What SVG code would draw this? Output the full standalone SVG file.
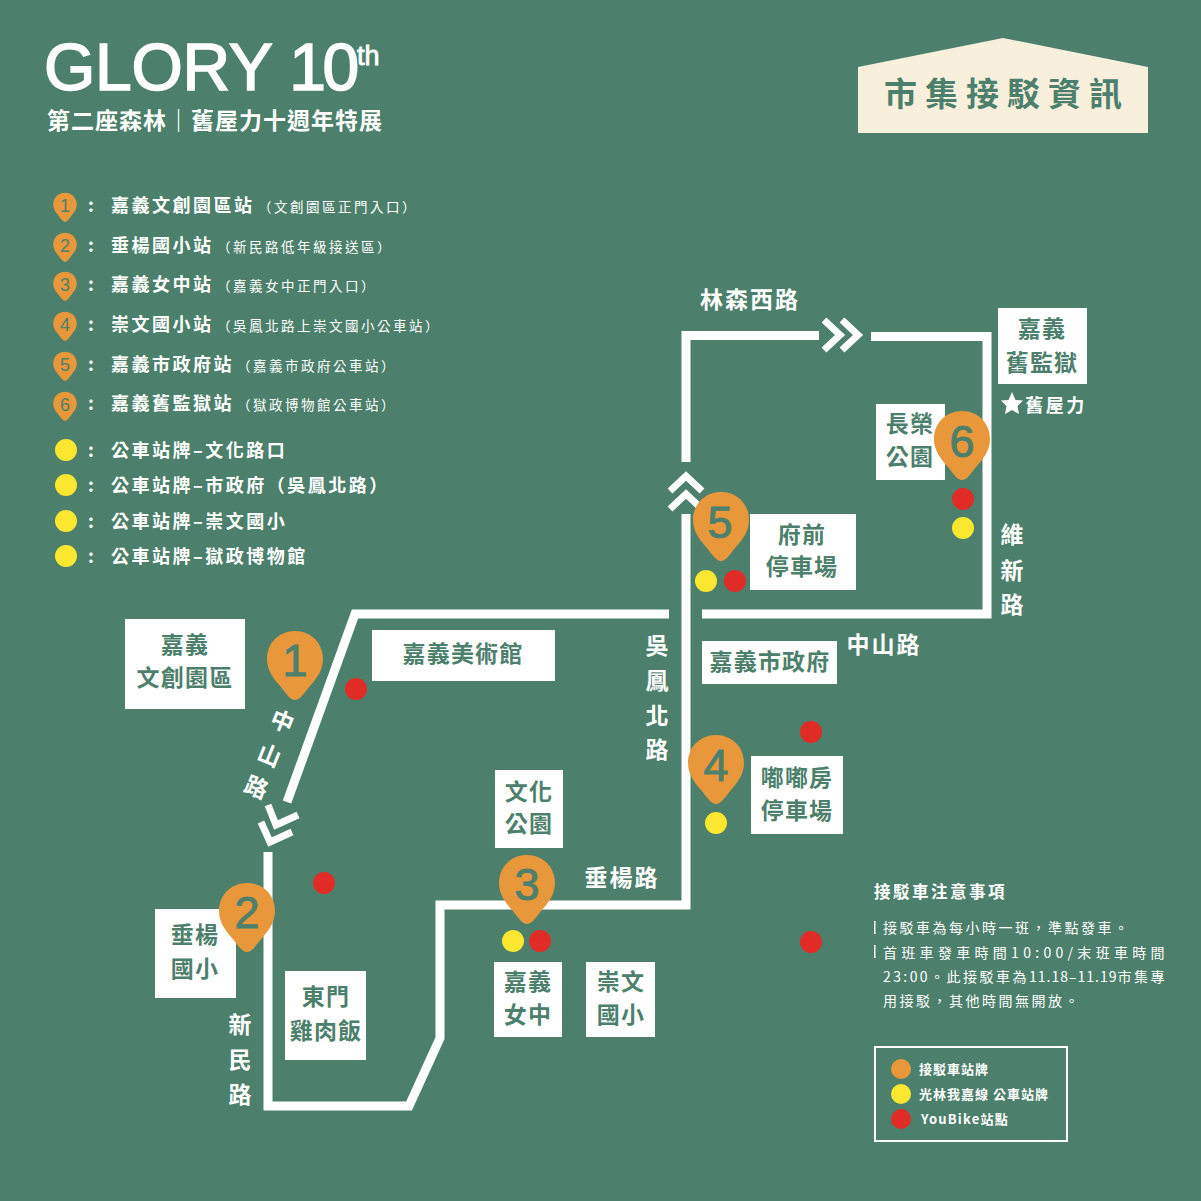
<svg xmlns="http://www.w3.org/2000/svg" width="1201" height="1201" viewBox="0 0 1201 1201">
<style>
text{font-family:"Noto Sans CJK TC","Noto Sans CJK SC",sans-serif}
.road{fill:none;stroke:#fff;stroke-width:9;stroke-linejoin:miter}
.chev{fill:none;stroke:#fff;stroke-width:7;stroke-linejoin:miter}
.box{fill:#fff}
.bl{fill:#4d806c;font-size:23px;font-weight:700;letter-spacing:1.2px;text-anchor:middle;transform:translateY(-1px)}
.wl{fill:#fff;font-size:23px;font-weight:700;letter-spacing:2px;text-anchor:middle}
#road-labels{transform:translateY(-1px)}
.num{fill:#4d806c;stroke:#4d806c;stroke-width:1;font-family:"Liberation Sans",sans-serif;font-size:45px;text-anchor:middle}
.snum{fill:#4d806c;font-family:"Liberation Sans",sans-serif;font-size:18px;text-anchor:middle}
.lg{fill:#fff;font-size:18px;font-weight:700;letter-spacing:2.5px}
.lgs{fill:#fff;font-size:13.5px;letter-spacing:2.5px}
.note{fill:#fff;font-size:14px;letter-spacing:2.5px}
.key{fill:#fff;font-size:13px;font-weight:700;letter-spacing:1px}
.o{fill:#e8983a}.y{fill:#fbe72f}.r{fill:#e02b27}
</style>
<defs>
<path id="pin" class="o" d="M0,40 C-5,40 -9,33 -15,26 C-22,18 -28,10 -28,-1 C-28,-17 -16,-29 0,-29 C16,-29 28,-17 28,-1 C28,10 22,18 15,26 C9,33 5,40 0,40Z"/>
</defs>
<rect width="1201" height="1201" fill="#4d806c"/>

<g id="title">
<text x="44" y="90" fill="#fff" style="font-family:'Liberation Sans',sans-serif" font-size="66" stroke="#fff" stroke-width="1.6" letter-spacing="-.3">GLORY <tspan style="letter-spacing:-3.500px">10</tspan></text>
<text x="357" y="65" fill="#fff" style="font-family:'Liberation Sans',sans-serif" font-size="27" stroke="#fff" stroke-width=".8">th</text>
<text x="47" y="129" fill="#fff" font-size="23" font-weight="700" letter-spacing="1">第二座森林｜舊屋力十週年特展</text>
</g>

<g id="banner">
<path d="M858,67 L1003,38 L1148,67 V133 H858Z" fill="#f8f0dd"/>
<text x="1007" y="106" fill="#4d806c" font-size="33" font-weight="700" letter-spacing="8" text-anchor="middle">市集接駁資訊</text>
</g>

<g id="connectors">
<path class="road" d="M669,614 H355 L287,802"/>
<path class="road" d="M268,852 V1106 H409 L440,1038 V905 H686 V514"/>
<path class="road" d="M686,462 V335.500 H819"/>
<path class="road" d="M871,336.500 H987 V614 H702"/>
<path class="chev" d="M824,320 L840,335 L824,350"/>
<path class="chev" d="M842,320 L858,335 L842,350"/>
<path class="chev" d="M670,491 L686,476 L702,491"/>
<path class="chev" d="M670,509 L686,494 L702,509"/>
<path class="chev" d="M268,805 L276,825 L298,815"/>
<path class="chev" d="M261,822 L270,842 L292,832"/>
</g>

<g id="legend-list">
<g id="leg1"><use href="#pin" transform="translate(65,205) scale(.42)"/><text class="snum" x="65" y="212">1</text><text class="lg" x="88" y="212">:</text><text class="lg" x="111" y="212">嘉義文創園區站</text><text class="lgs" x="258" y="212">（文創園區正門入口）</text></g>
<g id="leg2"><use href="#pin" transform="translate(65,245) scale(.42)"/><text class="snum" x="65" y="252">2</text><text class="lg" x="88" y="252">:</text><text class="lg" x="111" y="252">垂楊國小站</text><text class="lgs" x="217" y="252">（新民路低年級接送區）</text></g>
<g id="leg3"><use href="#pin" transform="translate(65,284) scale(.42)"/><text class="snum" x="65" y="291">3</text><text class="lg" x="88" y="291">:</text><text class="lg" x="111" y="291">嘉義女中站</text><text class="lgs" x="217" y="291">（嘉義女中正門入口）</text></g>
<g id="leg4"><use href="#pin" transform="translate(65,324) scale(.42)"/><text class="snum" x="65" y="331">4</text><text class="lg" x="88" y="331">:</text><text class="lg" x="111" y="331">崇文國小站</text><text class="lgs" x="217" y="331">（吳鳳北路上崇文國小公車站）</text></g>
<g id="leg5"><use href="#pin" transform="translate(65,364) scale(.42)"/><text class="snum" x="65" y="371">5</text><text class="lg" x="88" y="371">:</text><text class="lg" x="111" y="371">嘉義市政府站</text><text class="lgs" x="237" y="371">（嘉義市政府公車站）</text></g>
<g id="leg6"><use href="#pin" transform="translate(65,404) scale(.42)"/><text class="snum" x="65" y="411">6</text><text class="lg" x="88" y="410">:</text><text class="lg" x="111" y="410">嘉義舊監獄站</text><text class="lgs" x="237" y="410">（獄政博物館公車站）</text></g>
<g id="bus1"><circle class="y" cx="66" cy="450" r="11"/><text class="lg" x="88" y="457">:</text><text class="lg" x="111" y="457">公車站牌–文化路口</text></g>
<g id="bus2"><circle class="y" cx="66" cy="485" r="11"/><text class="lg" x="88" y="492">:</text><text class="lg" x="111" y="492">公車站牌–市政府（吳鳳北路）</text></g>
<g id="bus3"><circle class="y" cx="66" cy="521" r="11"/><text class="lg" x="88" y="528">:</text><text class="lg" x="111" y="528">公車站牌–崇文國小</text></g>
<g id="bus4"><circle class="y" cx="66" cy="556" r="11"/><text class="lg" x="88" y="563">:</text><text class="lg" x="111" y="563">公車站牌–獄政博物館</text></g>
</g>

<g id="place-wenchuang"><rect class="box" x="125" y="619" width="120" height="90"/><text class="bl" x="185" y="654">嘉義</text><text class="bl" x="185" y="687">文創園區</text></g>
<g id="place-museum"><rect class="box" x="372" y="630" width="183" height="51"/><text class="bl" x="463" y="663">嘉義美術館</text></g>
<g id="place-chuiyang"><rect class="box" x="155" y="909" width="81" height="89"/><text class="bl" x="195" y="944">垂楊</text><text class="bl" x="195" y="978">國小</text></g>
<g id="place-dongmen"><rect class="box" x="285" y="971" width="81" height="89"/><text class="bl" x="326" y="1006">東門</text><text class="bl" x="326" y="1040">雞肉飯</text></g>
<g id="place-wenhua"><rect class="box" x="495" y="770" width="68" height="78"/><text class="bl" x="529" y="801">文化</text><text class="bl" x="529" y="833">公園</text></g>
<g id="place-girls"><rect class="box" x="494" y="962" width="68" height="75"/><text class="bl" x="528" y="991">嘉義</text><text class="bl" x="528" y="1024">女中</text></g>
<g id="place-chongwen"><rect class="box" x="586" y="962" width="69" height="75"/><text class="bl" x="621" y="991">崇文</text><text class="bl" x="621" y="1024">國小</text></g>
<g id="place-dudu"><rect class="box" x="751" y="756" width="92" height="78"/><text class="bl" x="797" y="787">嘟嘟房</text><text class="bl" x="797" y="820">停車場</text></g>
<g id="place-cityhall"><rect class="box" x="702" y="641" width="135" height="43"/><text class="bl" x="770" y="671">嘉義市政府</text></g>
<g id="place-fuqian"><rect class="box" x="750" y="514" width="106" height="76"/><text class="bl" x="802" y="544">府前</text><text class="bl" x="802" y="576">停車場</text></g>
<g id="place-changrong"><rect class="box" x="876" y="404" width="69" height="76"/><text class="bl" x="910" y="433">長榮</text><text class="bl" x="910" y="466">公園</text></g>
<g id="place-prison"><rect class="box" x="998" y="308" width="89" height="76"/><text class="bl" x="1042" y="338">嘉義</text><text class="bl" x="1042" y="372">舊監獄</text></g>

<g id="road-labels">
<text class="wl" x="750" y="309">林森西路</text>
<text class="wl" x="1013" y="544">維</text><text class="wl" x="1013" y="580">新</text><text class="wl" x="1013" y="614">路</text>
<text class="wl" x="884" y="654">中山路</text>
<text class="wl" x="658" y="655">吳</text><text class="wl" x="658" y="690">鳳</text><text class="wl" x="658" y="725">北</text><text class="wl" x="658" y="759">路</text>
<text class="wl" x="622" y="887">垂楊路</text>
<text class="wl" x="241" y="1034">新</text><text class="wl" x="241" y="1069">民</text><text class="wl" x="241" y="1104">路</text>
<text class="wl" transform="translate(283,723) rotate(22)" y="8">中</text>
<text class="wl" transform="translate(270,757) rotate(22)" y="8">山</text>
<text class="wl" transform="translate(257,789) rotate(22)" y="8">路</text>
<text x="1056" y="413" fill="#fff" font-size="18" font-weight="700" letter-spacing="2.5" text-anchor="middle">舊屋力</text>
<path id="star" fill="#fff" d="M1012,393 L1015.500,401 L1023,401.500 L1017.500,407 L1019,415 L1012,411 L1005,415 L1006.500,407 L1001,401.500 L1008.500,401Z"/>
</g>

<g id="stop1"><use href="#pin" x="295" y="660"/><text class="num" x="295" y="676">1</text></g>
<g id="stop2"><use href="#pin" x="247" y="912"/><text class="num" x="247" y="928">2</text></g>
<g id="stop3"><use href="#pin" x="527" y="884"/><text class="num" x="527" y="900">3</text></g>
<g id="stop4"><use href="#pin" x="716" y="764"/><text class="num" x="716" y="781">4</text></g>
<g id="stop5"><use href="#pin" x="721" y="521"/><text class="num" x="720" y="538">5</text></g>
<g id="stop6"><use href="#pin" x="962" y="440"/><text class="num" x="962" y="457">6</text></g>

<g id="dots">
<circle class="r" cx="356" cy="689" r="11"/>
<circle class="r" cx="324" cy="883" r="11"/>
<circle class="y" cx="513" cy="941" r="11"/>
<circle class="r" cx="540" cy="941" r="11"/>
<circle class="y" cx="716" cy="823" r="11"/>
<circle class="r" cx="811" cy="732" r="11"/>
<circle class="r" cx="811" cy="942" r="11"/>
<circle class="y" cx="706" cy="581" r="11"/>
<circle class="r" cx="735" cy="581" r="11"/>
<circle class="r" cx="963" cy="499" r="11"/>
<circle class="y" cx="963" cy="528" r="11"/>
</g>

<g id="notes">
<text x="874" y="898" fill="#fff" font-size="16.500" font-weight="700" letter-spacing="2.500">接駁車注意事項</text>
<rect x="874" y="921" width="1.500" height="13" fill="#fff"/>
<text class="note" x="883" y="933">接駁車為每小時一班，準點發車。</text>
<rect x="874" y="945" width="1.500" height="13" fill="#fff"/>
<text class="note" x="883" y="958" style="letter-spacing:4.300px">首班車發車時間10:00/末班車時間</text>
<text class="note" x="883" y="982"><tspan style="letter-spacing:2.400px">23:00</tspan>。此接駁車為<tspan style="letter-spacing:1px">11.18–11.19</tspan>市集專</text>
<text class="note" x="883" y="1006">用接駁，其他時間無開放。</text>
</g>

<g id="key">
<rect x="875" y="1047" width="192" height="94" fill="none" stroke="#fff" stroke-width="2"/>
<circle class="o" cx="901" cy="1069" r="10"/>
<text class="key" x="919" y="1074">接駁車站牌</text>
<circle class="y" cx="901" cy="1094" r="10"/>
<text class="key" x="919" y="1099">光林我嘉線 公車站牌</text>
<circle class="r" cx="901" cy="1119" r="10"/>
<text class="key" x="921" y="1124" style="letter-spacing:1.200px">YouBike站點</text>
</g>
</svg>
